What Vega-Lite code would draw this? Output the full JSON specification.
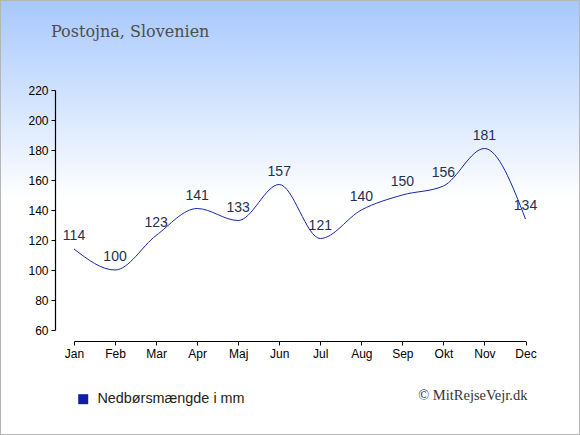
{
  "$schema": "https://vega.github.io/schema/vega-lite/v6.json",
  "width": 580,
  "height": 435,
  "autosize": "none",
  "padding": 0,
  "background": "white",
  "title": {
    "text": "Postojna, Slovenien",
    "anchor": "start",
    "frame": "group",
    "dx": 51,
    "offset": -40,
    "font": "DejaVu Serif",
    "fontSize": 16,
    "fontWeight": "normal",
    "color": "#4d4d4d"
  },
  "data": {
    "values": [
      {"month": "Jan", "mm": 114},
      {"month": "Feb", "mm": 100},
      {"month": "Mar", "mm": 123},
      {"month": "Apr", "mm": 141},
      {"month": "Maj", "mm": 133},
      {"month": "Jun", "mm": 157},
      {"month": "Jul", "mm": 121},
      {"month": "Aug", "mm": 140},
      {"month": "Sep", "mm": 150},
      {"month": "Okt", "mm": 156},
      {"month": "Nov", "mm": 181},
      {"month": "Dec", "mm": 134}
    ]
  },
  "encoding": {
    "x": {
      "field": "month",
      "type": "ordinal",
      "sort": null,
      "scale": {"type": "point", "range": [74, 525.5], "padding": 0},
      "axis": {
        "offset": -94,
        "labelAngle": 0,
        "tickSize": 4,
        "labelPadding": 3,
        "title": "© MitRejseVejr.dk",
        "titleX": 527,
        "titleY": 54,
        "titleAlign": "right",
        "titleBaseline": "middle",
        "titleFont": "Liberation Serif",
        "titleFontSize": 14.5,
        "titleFontWeight": "normal",
        "titleColor": "#333333"
      }
    },
    "y": {
      "field": "mm",
      "type": "quantitative",
      "scale": {"domain": [60, 220], "range": [330, 90], "nice": false, "zero": false},
      "axis": {
        "offset": -55,
        "values": [60, 80, 100, 120, 140, 160, 180, 200, 220],
        "tickSize": 4,
        "labelPadding": 3,
        "title": null,
        "grid": false
      }
    }
  },
  "layer": [
    {
      "mark": {"type": "line", "interpolate": "monotone", "strokeWidth": 1, "color": "#2b3cc0"},
      "encoding": {
        "color": {
          "datum": "Nedbørsmængde i mm",
          "type": "nominal",
          "scale": {"range": ["#1426a8"]},
          "legend": {
            "title": null,
            "orient": "none",
            "legendX": 76,
            "legendY": 392,
            "symbolType": "square",
            "symbolSize": 100,
            "symbolFillColor": "#0e1ea8",
            "symbolStrokeWidth": 0,
            "labelFont": "Liberation Sans",
            "labelFontSize": 14.4,
            "labelColor": "#222222",
            "labelOffset": 7
          }
        }
      }
    },
    {
      "mark": {"type": "text", "dy": -13, "fontSize": 14, "font": "Liberation Sans", "color": "#22304f"},
      "encoding": {"text": {"field": "mm", "type": "quantitative"}}
    }
  ],
  "config": {
    "view": {
      "fill": {
        "gradient": "linear",
        "x1": 0, "y1": 0, "x2": 0, "y2": 1,
        "stops": [
          {"offset": 0, "color": "#a7c8fd"},
          {"offset": 0.46, "color": "#ffffff"},
          {"offset": 1, "color": "#ffffff"}
        ]
      },
      "stroke": "#b5b5b5",
      "strokeWidth": 2
    },
    "axis": {
      "labelFont": "Liberation Sans",
      "labelFontSize": 12,
      "labelColor": "#000000",
      "domainColor": "#000000",
      "tickColor": "#000000",
      "domainWidth": 1.2,
      "tickWidth": 1
    }
  }
}
